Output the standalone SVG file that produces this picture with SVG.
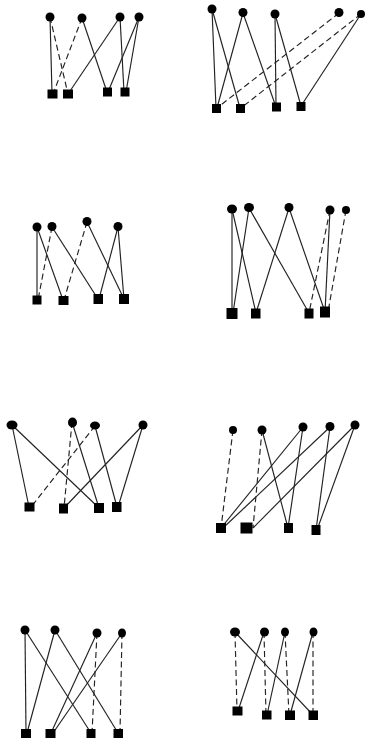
<svg xmlns="http://www.w3.org/2000/svg" width="365" height="740" viewBox="0 0 365 740">
<style>
.e{stroke:#222;stroke-width:1.15;fill:none}
.d{stroke-dasharray:6 3.5}
.c{fill:#000}
.s{fill:#000}
</style>
<rect width="365" height="740" fill="#fff"/>
<g id="connectors">
<!-- panel 1 -->
<line class="e" x1="50" y1="17" x2="52" y2="94"/>
<line class="e d" x1="50" y1="17" x2="68" y2="94"/>
<line class="e d" x1="82" y1="18" x2="53" y2="94"/>
<line class="e" x1="82" y1="18" x2="107" y2="92"/>
<line class="e" x1="120" y1="17" x2="68" y2="94"/>
<line class="e" x1="120" y1="17" x2="124" y2="92"/>
<line class="e" x1="139" y1="17" x2="108" y2="92"/>
<line class="e" x1="139" y1="17" x2="126" y2="92"/>
<!-- panel 2 -->
<line class="e" x1="212" y1="9" x2="216" y2="108"/>
<line class="e" x1="212" y1="9" x2="240" y2="108"/>
<line class="e" x1="243" y1="13" x2="217" y2="108"/>
<line class="e" x1="243" y1="13" x2="276" y2="107"/>
<line class="e" x1="275" y1="14" x2="276" y2="107"/>
<line class="e" x1="275" y1="14" x2="301" y2="106"/>
<line class="e d" x1="339" y1="13" x2="217" y2="108"/>
<line class="e d" x1="361" y1="14" x2="241" y2="108"/>
<line class="e" x1="361" y1="14" x2="301" y2="106"/>
<!-- panel 3 -->
<line class="e" x1="37" y1="227" x2="37" y2="300"/>
<line class="e" x1="37" y1="227" x2="63" y2="300"/>
<line class="e d" x1="52" y1="227" x2="38" y2="300"/>
<line class="e" x1="52" y1="227" x2="98" y2="299"/>
<line class="e d" x1="87" y1="222" x2="64" y2="300"/>
<line class="e" x1="87" y1="222" x2="124" y2="299"/>
<line class="e" x1="118" y1="227" x2="99" y2="299"/>
<line class="e" x1="118" y1="227" x2="124" y2="299"/>
<!-- panel 4 -->
<line class="e" x1="232" y1="209" x2="232" y2="313"/>
<line class="e" x1="232" y1="209" x2="256" y2="313"/>
<line class="e" x1="249" y1="208" x2="233" y2="313"/>
<line class="e" x1="249" y1="208" x2="309" y2="313"/>
<line class="e" x1="289" y1="208" x2="256" y2="313"/>
<line class="e" x1="289" y1="208" x2="325" y2="312"/>
<line class="e d" x1="330" y1="210" x2="309" y2="313"/>
<line class="e" x1="330" y1="210" x2="325" y2="312"/>
<line class="e d" x1="346" y1="210" x2="328" y2="312"/>
<!-- panel 5 -->
<line class="e" x1="12" y1="425" x2="29" y2="507"/>
<line class="e" x1="12" y1="425" x2="99" y2="508"/>
<line class="e d" x1="72" y1="422" x2="64" y2="508"/>
<line class="e" x1="72" y1="422" x2="99" y2="508"/>
<line class="e d" x1="95" y1="426" x2="31" y2="507"/>
<line class="e" x1="95" y1="426" x2="117" y2="507"/>
<line class="e" x1="143" y1="425" x2="64" y2="508"/>
<line class="e" x1="143" y1="425" x2="118" y2="507"/>
<!-- panel 6 -->
<line class="e d" x1="233" y1="430" x2="221" y2="528"/>
<line class="e d" x1="262" y1="430" x2="253" y2="528"/>
<line class="e" x1="262" y1="430" x2="288" y2="528"/>
<line class="e" x1="303" y1="427" x2="221" y2="528"/>
<line class="e" x1="303" y1="427" x2="288" y2="528"/>
<line class="e" x1="330" y1="427" x2="223" y2="528"/>
<line class="e" x1="330" y1="427" x2="316" y2="530"/>
<line class="e" x1="355" y1="425" x2="253" y2="528"/>
<line class="e" x1="355" y1="425" x2="317" y2="530"/>
<!-- panel 7 -->
<line class="e" x1="25" y1="630" x2="26" y2="733"/>
<line class="e" x1="25" y1="630" x2="91" y2="733"/>
<line class="e" x1="55" y1="630" x2="27" y2="733"/>
<line class="e" x1="55" y1="630" x2="118" y2="733"/>
<line class="e" x1="97" y1="633" x2="51" y2="733"/>
<line class="e d" x1="97" y1="633" x2="92" y2="733"/>
<line class="e" x1="122" y1="633" x2="53" y2="733"/>
<line class="e d" x1="122" y1="633" x2="120" y2="733"/>
<!-- panel 8 -->
<line class="e d" x1="235" y1="632" x2="237" y2="711"/>
<line class="e" x1="235" y1="632" x2="313" y2="715"/>
<line class="e" x1="264" y1="632" x2="238" y2="711"/>
<line class="e d" x1="264" y1="632" x2="266" y2="715"/>
<line class="e" x1="285" y1="632" x2="267" y2="715"/>
<line class="e d" x1="285" y1="632" x2="289" y2="715"/>
<line class="e" x1="313" y1="632" x2="290" y2="715"/>
<line class="e d" x1="313" y1="632" x2="313" y2="715"/>
</g>
<!-- panel 1 nodes -->
<g id="p1c1"><ellipse class="c" cx="50" cy="17" rx="4.5" ry="4.5"/></g>
<g id="p1c2"><ellipse class="c" cx="82" cy="18" rx="4.5" ry="4.5"/></g>
<g id="p1c3"><ellipse class="c" cx="120" cy="17" rx="4.5" ry="4.5"/></g>
<g id="p1c4"><ellipse class="c" cx="139" cy="17" rx="4.5" ry="4.5"/></g>
<g id="p1s1"><rect class="s" x="47.5" y="89.5" width="10" height="9"/></g>
<g id="p1s2"><rect class="s" x="63" y="89.5" width="10" height="9"/></g>
<g id="p1s3"><rect class="s" x="103" y="87.5" width="9" height="9"/></g>
<g id="p1s4"><rect class="s" x="120.5" y="87.5" width="9" height="9"/></g>
<!-- panel 2 nodes -->
<g id="p2c1"><ellipse class="c" cx="212" cy="9" rx="4.5" ry="4.5"/></g>
<g id="p2c2"><ellipse class="c" cx="243" cy="12.5" rx="4.5" ry="4.5"/></g>
<g id="p2c3"><ellipse class="c" cx="275" cy="14" rx="4.5" ry="4.5"/></g>
<g id="p2c4"><ellipse class="c" cx="339" cy="12.5" rx="4.5" ry="4.5"/></g>
<g id="p2c5"><ellipse class="c" cx="361" cy="14" rx="4" ry="4"/></g>
<g id="p2s1"><rect class="s" x="212" y="104" width="9" height="9"/></g>
<g id="p2s2"><rect class="s" x="236" y="104" width="9" height="9"/></g>
<g id="p2s3"><rect class="s" x="272" y="102.5" width="9" height="9"/></g>
<g id="p2s4"><rect class="s" x="296.5" y="102" width="9" height="9"/></g>
<!-- panel 3 nodes -->
<g id="p3c1"><ellipse class="c" cx="37" cy="227" rx="4.5" ry="4.5"/></g>
<g id="p3c2"><ellipse class="c" cx="52" cy="226.5" rx="4.5" ry="4.5"/></g>
<g id="p3c3"><ellipse class="c" cx="87" cy="221.5" rx="4.5" ry="4.5"/></g>
<g id="p3c4"><ellipse class="c" cx="118" cy="226.5" rx="4.5" ry="4.5"/></g>
<g id="p3s1"><rect class="s" x="32.5" y="295.5" width="9" height="9"/></g>
<g id="p3s2"><rect class="s" x="58.5" y="296" width="10" height="9"/></g>
<g id="p3s3"><rect class="s" x="93.5" y="294" width="9.5" height="10"/></g>
<g id="p3s4"><rect class="s" x="119" y="294" width="10" height="10"/></g>
<!-- panel 4 nodes -->
<g id="p4c1"><ellipse class="c" cx="232" cy="209" rx="5" ry="4.5"/></g>
<g id="p4c2"><ellipse class="c" cx="249" cy="207.5" rx="5" ry="4.5"/></g>
<g id="p4c3"><ellipse class="c" cx="289" cy="207.5" rx="4.5" ry="4.5"/></g>
<g id="p4c4"><ellipse class="c" cx="330" cy="210" rx="4.5" ry="4.5"/></g>
<g id="p4c5"><ellipse class="c" cx="346" cy="210" rx="4" ry="4"/></g>
<g id="p4s1"><rect class="s" x="226.5" y="308" width="11" height="11"/></g>
<g id="p4s2"><rect class="s" x="251" y="308.5" width="9.5" height="10"/></g>
<g id="p4s3"><rect class="s" x="304.5" y="308.5" width="9" height="10"/></g>
<g id="p4s4"><rect class="s" x="320" y="306.5" width="10" height="11"/></g>
<!-- panel 5 nodes -->
<g id="p5c1"><ellipse class="c" cx="12" cy="425" rx="5.5" ry="4.5"/></g>
<g id="p5c2"><ellipse class="c" cx="72.5" cy="422.5" rx="4.5" ry="5"/></g>
<g id="p5c3"><ellipse class="c" cx="95" cy="425.5" rx="5" ry="4"/></g>
<g id="p5c4"><ellipse class="c" cx="143" cy="425" rx="4.5" ry="4.5"/></g>
<g id="p5s1"><rect class="s" x="24.5" y="502.5" width="10" height="9"/></g>
<g id="p5s2"><rect class="s" x="59" y="503.5" width="9" height="10"/></g>
<g id="p5s3"><rect class="s" x="94" y="503" width="10" height="10"/></g>
<g id="p5s4"><rect class="s" x="112" y="502" width="9.5" height="10"/></g>
<!-- panel 6 nodes -->
<g id="p6c1"><ellipse class="c" cx="233" cy="430" rx="4" ry="4"/></g>
<g id="p6c2"><ellipse class="c" cx="262" cy="430" rx="4.5" ry="4.5"/></g>
<g id="p6c3"><ellipse class="c" cx="303" cy="427" rx="4.5" ry="4.5"/></g>
<g id="p6c4"><ellipse class="c" cx="330" cy="426.5" rx="4.5" ry="4.5"/></g>
<g id="p6c5"><ellipse class="c" cx="355" cy="425" rx="4.5" ry="4.5"/></g>
<g id="p6s1"><rect class="s" x="216" y="523" width="10" height="10"/></g>
<g id="p6s2"><rect class="s" x="240.5" y="522.5" width="12" height="11"/></g>
<g id="p6s3"><rect class="s" x="284" y="523" width="9" height="10"/></g>
<g id="p6s4"><rect class="s" x="311.5" y="525" width="9" height="10"/></g>
<!-- panel 7 nodes -->
<g id="p7c1"><ellipse class="c" cx="25" cy="630" rx="4.5" ry="4.5"/></g>
<g id="p7c2"><ellipse class="c" cx="55" cy="630" rx="4.5" ry="4.5"/></g>
<g id="p7c3"><ellipse class="c" cx="97" cy="633" rx="4.5" ry="4.5"/></g>
<g id="p7c4"><ellipse class="c" cx="122" cy="633" rx="4" ry="4.5"/></g>
<g id="p7s1"><rect class="s" x="21" y="729" width="10" height="9"/></g>
<g id="p7s2"><rect class="s" x="45.5" y="729" width="10" height="9"/></g>
<g id="p7s3"><rect class="s" x="86.5" y="729" width="9" height="9"/></g>
<g id="p7s4"><rect class="s" x="113.5" y="729" width="9.5" height="9"/></g>
<!-- panel 8 nodes -->
<g id="p8c1"><ellipse class="c" cx="235" cy="632" rx="5" ry="4.5"/></g>
<g id="p8c2"><ellipse class="c" cx="264.5" cy="632" rx="4.5" ry="4.5"/></g>
<g id="p8c3"><ellipse class="c" cx="285" cy="632" rx="4" ry="4.5"/></g>
<g id="p8c4"><ellipse class="c" cx="313.5" cy="632" rx="4" ry="4.5"/></g>
<g id="p8s1"><rect class="s" x="232.5" y="706.5" width="10" height="9"/></g>
<g id="p8s2"><rect class="s" x="262" y="710.5" width="9.5" height="9"/></g>
<g id="p8s3"><rect class="s" x="285" y="710.5" width="10" height="9.5"/></g>
<g id="p8s4"><rect class="s" x="308.5" y="710.5" width="9.5" height="9.5"/></g>
</svg>
